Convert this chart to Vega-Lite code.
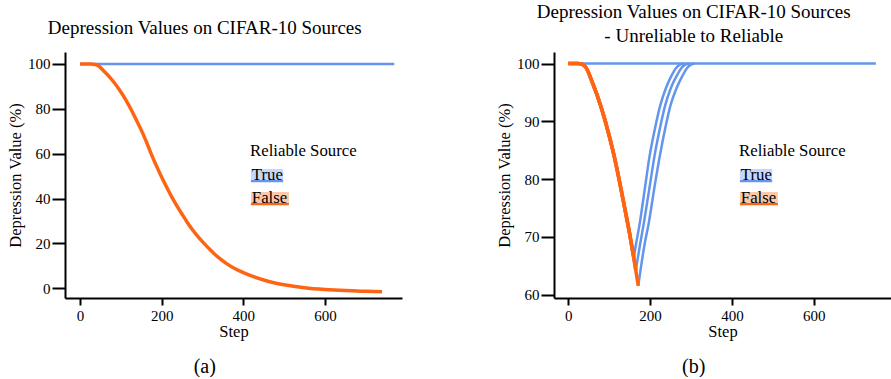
{
  "$schema": "https://vega.github.io/schema/vega-lite/v6.json",
  "padding": {"left": 7, "top": 2, "right": 0, "bottom": 0},
  "background": "white",
  "config": {
    "font": "Liberation Serif, Times New Roman, DejaVu Serif, serif",
    "view": {"stroke": null},
    "axis": {
      "domainColor": "black", "domainWidth": 2, "tickColor": "black", "tickWidth": 2,
      "labelFont": "Liberation Serif, Times New Roman, DejaVu Serif, serif", "labelFontSize": 15, "labelColor": "black",
      "titleFont": "Liberation Serif, Times New Roman, DejaVu Serif, serif", "titleFontSize": 16.5, "titleFontWeight": "normal", "titleColor": "black",
      "grid": false, "labelFlush": false
    },
    "legend": {
      "titleFont": "Liberation Serif, Times New Roman, DejaVu Serif, serif",
      "labelFont": "Liberation Serif, Times New Roman, DejaVu Serif, serif"
    },
    "title": {"font": "Liberation Serif, Times New Roman, DejaVu Serif, serif", "fontSize": 19, "fontWeight": "normal", "color": "black", "frame": "bounds", "anchor": "middle"}
  },
  "datasets": {
    "a": [
      {"s": "r", "rel": "True", "step": 0, "v": 100},
      {"s": "r", "rel": "True", "step": 770, "v": 100},
      {"s": "u", "rel": "False", "step": 0, "v": 100},
      {"s": "u", "rel": "False", "step": 25, "v": 100},
      {"s": "u", "rel": "False", "step": 40, "v": 99.6},
      {"s": "u", "rel": "False", "step": 60, "v": 96.5},
      {"s": "u", "rel": "False", "step": 80, "v": 92.5},
      {"s": "u", "rel": "False", "step": 100, "v": 87.5},
      {"s": "u", "rel": "False", "step": 112, "v": 84},
      {"s": "u", "rel": "False", "step": 124, "v": 80},
      {"s": "u", "rel": "False", "step": 137, "v": 75.3},
      {"s": "u", "rel": "False", "step": 150, "v": 70.5},
      {"s": "u", "rel": "False", "step": 162, "v": 65.5},
      {"s": "u", "rel": "False", "step": 173, "v": 60.5},
      {"s": "u", "rel": "False", "step": 186, "v": 55},
      {"s": "u", "rel": "False", "step": 200, "v": 49.5},
      {"s": "u", "rel": "False", "step": 213, "v": 44.8},
      {"s": "u", "rel": "False", "step": 226, "v": 40.3},
      {"s": "u", "rel": "False", "step": 238, "v": 36.5},
      {"s": "u", "rel": "False", "step": 250, "v": 33},
      {"s": "u", "rel": "False", "step": 262, "v": 29.6},
      {"s": "u", "rel": "False", "step": 275, "v": 26.2},
      {"s": "u", "rel": "False", "step": 290, "v": 22.8},
      {"s": "u", "rel": "False", "step": 304, "v": 20},
      {"s": "u", "rel": "False", "step": 317, "v": 17.5},
      {"s": "u", "rel": "False", "step": 330, "v": 15.2},
      {"s": "u", "rel": "False", "step": 345, "v": 12.9},
      {"s": "u", "rel": "False", "step": 360, "v": 10.9},
      {"s": "u", "rel": "False", "step": 380, "v": 8.7},
      {"s": "u", "rel": "False", "step": 400, "v": 7},
      {"s": "u", "rel": "False", "step": 425, "v": 5.2},
      {"s": "u", "rel": "False", "step": 450, "v": 3.7},
      {"s": "u", "rel": "False", "step": 475, "v": 2.5},
      {"s": "u", "rel": "False", "step": 500, "v": 1.6},
      {"s": "u", "rel": "False", "step": 550, "v": 0.3},
      {"s": "u", "rel": "False", "step": 600, "v": -0.5},
      {"s": "u", "rel": "False", "step": 650, "v": -1.0},
      {"s": "u", "rel": "False", "step": 700, "v": -1.3},
      {"s": "u", "rel": "False", "step": 740, "v": -1.5}
    ],
    "b": [
      {"s": "r", "rel": "True", "step": 0, "v": 100},
      {"s": "r", "rel": "True", "step": 752, "v": 100},
      {"s": "u1", "rel": "False", "step": 0, "v": 100},
      {"s": "u1", "rel": "False", "step": 25, "v": 100},
      {"s": "u1", "rel": "False", "step": 40, "v": 99.6},
      {"s": "u1", "rel": "False", "step": 60, "v": 96.5},
      {"s": "u1", "rel": "False", "step": 80, "v": 92.5},
      {"s": "u1", "rel": "False", "step": 100, "v": 87.5},
      {"s": "u1", "rel": "False", "step": 112, "v": 84},
      {"s": "u1", "rel": "False", "step": 124, "v": 80},
      {"s": "u1", "rel": "False", "step": 137, "v": 75.3},
      {"s": "u1", "rel": "False", "step": 150, "v": 70.5},
      {"s": "u1", "rel": "False", "step": 160, "v": 66.4},
      {"s": "u2", "rel": "False", "step": 0, "v": 100},
      {"s": "u2", "rel": "False", "step": 25, "v": 100},
      {"s": "u2", "rel": "False", "step": 40, "v": 99.6},
      {"s": "u2", "rel": "False", "step": 60, "v": 96.5},
      {"s": "u2", "rel": "False", "step": 80, "v": 92.5},
      {"s": "u2", "rel": "False", "step": 100, "v": 87.5},
      {"s": "u2", "rel": "False", "step": 112, "v": 84},
      {"s": "u2", "rel": "False", "step": 124, "v": 80},
      {"s": "u2", "rel": "False", "step": 137, "v": 75.3},
      {"s": "u2", "rel": "False", "step": 150, "v": 70.5},
      {"s": "u2", "rel": "False", "step": 160, "v": 66.4},
      {"s": "u2", "rel": "False", "step": 165, "v": 64.2},
      {"s": "u3", "rel": "False", "step": 0, "v": 100},
      {"s": "u3", "rel": "False", "step": 25, "v": 100},
      {"s": "u3", "rel": "False", "step": 40, "v": 99.6},
      {"s": "u3", "rel": "False", "step": 60, "v": 96.5},
      {"s": "u3", "rel": "False", "step": 80, "v": 92.5},
      {"s": "u3", "rel": "False", "step": 100, "v": 87.5},
      {"s": "u3", "rel": "False", "step": 112, "v": 84},
      {"s": "u3", "rel": "False", "step": 124, "v": 80},
      {"s": "u3", "rel": "False", "step": 137, "v": 75.3},
      {"s": "u3", "rel": "False", "step": 150, "v": 70.5},
      {"s": "u3", "rel": "False", "step": 160, "v": 66.4},
      {"s": "u3", "rel": "False", "step": 165, "v": 64.2},
      {"s": "u3", "rel": "False", "step": 171, "v": 61.5},
      {"s": "t1", "rel": "True", "step": 160, "v": 66.4},
      {"s": "t1", "rel": "True", "step": 165, "v": 68.5},
      {"s": "t1", "rel": "True", "step": 175, "v": 72.5},
      {"s": "t1", "rel": "True", "step": 187, "v": 78.3},
      {"s": "t1", "rel": "True", "step": 199, "v": 84.1},
      {"s": "t1", "rel": "True", "step": 212, "v": 88.8},
      {"s": "t1", "rel": "True", "step": 225, "v": 92.8},
      {"s": "t1", "rel": "True", "step": 239, "v": 95.8},
      {"s": "t1", "rel": "True", "step": 253, "v": 98},
      {"s": "t1", "rel": "True", "step": 263, "v": 99.2},
      {"s": "t1", "rel": "True", "step": 273, "v": 99.8},
      {"s": "t1", "rel": "True", "step": 282, "v": 100},
      {"s": "t2", "rel": "True", "step": 165, "v": 64.2},
      {"s": "t2", "rel": "True", "step": 175, "v": 68.5},
      {"s": "t2", "rel": "True", "step": 185, "v": 72.5},
      {"s": "t2", "rel": "True", "step": 198, "v": 78.3},
      {"s": "t2", "rel": "True", "step": 211, "v": 84.1},
      {"s": "t2", "rel": "True", "step": 224, "v": 88.8},
      {"s": "t2", "rel": "True", "step": 237, "v": 92.8},
      {"s": "t2", "rel": "True", "step": 251, "v": 95.8},
      {"s": "t2", "rel": "True", "step": 266, "v": 98},
      {"s": "t2", "rel": "True", "step": 276, "v": 99.2},
      {"s": "t2", "rel": "True", "step": 286, "v": 99.8},
      {"s": "t2", "rel": "True", "step": 295, "v": 100},
      {"s": "t3", "rel": "True", "step": 171, "v": 61.5},
      {"s": "t3", "rel": "True", "step": 186, "v": 68.5},
      {"s": "t3", "rel": "True", "step": 197, "v": 72.5},
      {"s": "t3", "rel": "True", "step": 210, "v": 78.3},
      {"s": "t3", "rel": "True", "step": 224, "v": 84.1},
      {"s": "t3", "rel": "True", "step": 237, "v": 88.8},
      {"s": "t3", "rel": "True", "step": 250, "v": 92.8},
      {"s": "t3", "rel": "True", "step": 265, "v": 95.8},
      {"s": "t3", "rel": "True", "step": 280, "v": 98},
      {"s": "t3", "rel": "True", "step": 290, "v": 99.2},
      {"s": "t3", "rel": "True", "step": 300, "v": 99.8},
      {"s": "t3", "rel": "True", "step": 308, "v": 100}
    ]
  },
  "spacing": 94,
  "resolve": {"scale": {"color": "independent"}, "legend": {"color": "independent"}},
  "hconcat": [
    {
      "title": {"text": "(a)", "orient": "bottom", "fontSize": 20, "offset": 17, "anchor": "middle", "frame": "bounds"},
      "resolve": {"scale": {"color": "independent"}, "legend": {"color": "independent"}},
      "vconcat": [
        {
          "width": 337, "height": 246,
          "title": {"text": "Depression Values on CIFAR-10 Sources", "offset": 14},
          "data": {"name": "a"},
          "encoding": {
            "x": {"field": "step", "type": "quantitative", "scale": {"domain": [-37, 789], "nice": false, "zero": false},
                  "axis": {"values": [0, 200, 400, 600], "tickSize": 7, "labelPadding": 3, "title": "Step", "titlePadding": 0}},
            "y": {"field": "v", "type": "quantitative", "scale": {"domain": [-4.3, 105.3], "nice": false, "zero": false},
                  "axis": {"values": [0, 20, 40, 60, 80, 100], "tickSize": 13, "labelPadding": 2, "title": "Depression Value (%)", "titlePadding": 4}},
            "color": {"field": "rel", "type": "nominal",
                      "scale": {"domain": ["True", "False"], "range": ["#6495ED", "#FF6412"]},
                      "legend": {
                        "orient": "none", "legendX": 185, "legendY": 91,
                        "title": "Reliable Source", "titleFontSize": 16.8, "titleFontWeight": "normal", "titleColor": "black", "titlePadding": 7,
                        "labelFontSize": 16.8, "labelColor": "black", "labelOffset": -15,
                        "symbolType": "M-1.5,-1.25L6.1,-1.25L6.1,1.4L-1.5,1.4Z", "symbolSize": 100, "symbolStrokeWidth": 0, "rowPadding": 5,
                        "encode": {"symbols": {"update": {
                          "shape": {"signal": "datum.value === 'True' ? 'M-1.5,-1.25L4.96,-1.25L4.96,1.4L-1.5,1.4Z' : 'M-1.5,-1.25L6.1,-1.25L6.1,1.4L-1.5,1.4Z'"},
                          "fill": {"signal": "datum.value === 'True' ? {gradient: 'linear', x1: 0, y1: 0, x2: 0, y2: 1, stops: [{offset: 0, color: '#c6d8fa'}, {offset: 0.81, color: '#c6d8fa'}, {offset: 0.81, color: '#6495ED'}, {offset: 1, color: '#6495ED'}]} : {gradient: 'linear', x1: 0, y1: 0, x2: 0, y2: 1, stops: [{offset: 0, color: '#fcc8aa'}, {offset: 0.81, color: '#fcc8aa'}, {offset: 0.81, color: '#FF6412'}, {offset: 1, color: '#FF6412'}]}"},
                          "fillOpacity": {"value": 1},
                          "strokeWidth": {"value": 0}
                        }}}
                      }},
            "detail": {"field": "s", "type": "nominal"}
          },
          "layer": [
            {"transform": [{"filter": "datum.rel === 'True'"}], "mark": {"type": "line", "strokeWidth": 2.5, "interpolate": "monotone"}},
            {"transform": [{"filter": "datum.rel === 'False'"}], "mark": {"type": "line", "strokeWidth": 3.5, "interpolate": "monotone"}}
          ]
        }
      ]
    },
    {
      "title": {"text": "(b)", "orient": "bottom", "fontSize": 20, "offset": 17, "anchor": "middle", "frame": "bounds"},
      "resolve": {"scale": {"color": "independent"}, "legend": {"color": "independent"}},
      "vconcat": [
        {
          "width": 337, "height": 246,
          "title": {"text": ["Depression Values on CIFAR-10 Sources", "- Unreliable to Reliable"], "offset": 6, "lineHeight": 24.4},
          "data": {"name": "b"},
          "encoding": {
            "x": {"field": "step", "type": "quantitative", "scale": {"domain": [-35, 789], "nice": false, "zero": false},
                  "axis": {"values": [0, 200, 400, 600], "tickSize": 7, "labelPadding": 3, "title": "Step", "titlePadding": 0}},
            "y": {"field": "v", "type": "quantitative", "scale": {"domain": [59.4, 102], "nice": false, "zero": false},
                  "axis": {"values": [60, 70, 80, 90, 100], "tickSize": 13, "labelPadding": 2, "title": "Depression Value (%)", "titlePadding": 4}},
            "color": {"field": "rel", "type": "nominal",
                      "scale": {"domain": ["True", "False"], "range": ["#6495ED", "#FF6412"]},
                      "legend": {
                        "orient": "none", "legendX": 185, "legendY": 91,
                        "title": "Reliable Source", "titleFontSize": 16.8, "titleFontWeight": "normal", "titleColor": "black", "titlePadding": 7,
                        "labelFontSize": 16.8, "labelColor": "black", "labelOffset": -15,
                        "symbolType": "M-1.5,-1.25L6.1,-1.25L6.1,1.4L-1.5,1.4Z", "symbolSize": 100, "symbolStrokeWidth": 0, "rowPadding": 5,
                        "encode": {"symbols": {"update": {
                          "shape": {"signal": "datum.value === 'True' ? 'M-1.5,-1.25L4.96,-1.25L4.96,1.4L-1.5,1.4Z' : 'M-1.5,-1.25L6.1,-1.25L6.1,1.4L-1.5,1.4Z'"},
                          "fill": {"signal": "datum.value === 'True' ? {gradient: 'linear', x1: 0, y1: 0, x2: 0, y2: 1, stops: [{offset: 0, color: '#c6d8fa'}, {offset: 0.81, color: '#c6d8fa'}, {offset: 0.81, color: '#6495ED'}, {offset: 1, color: '#6495ED'}]} : {gradient: 'linear', x1: 0, y1: 0, x2: 0, y2: 1, stops: [{offset: 0, color: '#fcc8aa'}, {offset: 0.81, color: '#fcc8aa'}, {offset: 0.81, color: '#FF6412'}, {offset: 1, color: '#FF6412'}]}"},
                          "fillOpacity": {"value": 1},
                          "strokeWidth": {"value": 0}
                        }}}
                      }},
            "detail": {"field": "s", "type": "nominal"}
          },
          "layer": [
            {"transform": [{"filter": "datum.rel === 'True'"}], "mark": {"type": "line", "strokeWidth": 2.5, "interpolate": "monotone"}},
            {"transform": [{"filter": "datum.rel === 'False'"}], "mark": {"type": "line", "strokeWidth": 3.5, "interpolate": "monotone"}}
          ]
        }
      ]
    }
  ]
}
